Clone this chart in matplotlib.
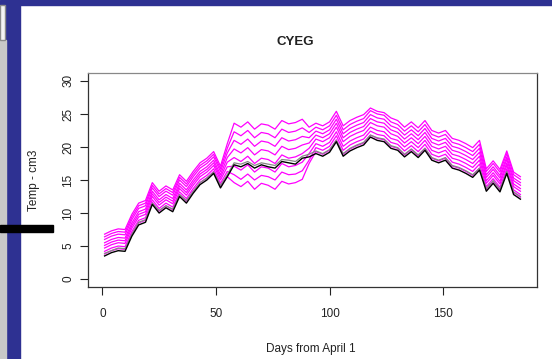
import matplotlib
matplotlib.use("Agg")
import matplotlib.pyplot as plt
from matplotlib.patches import Rectangle

plt.rcParams['font.family'] = ['Liberation Sans', 'DejaVu Sans']

# days from April 1 (every 3rd day)
days = list(range(1, 185, 3))

# observed temperature (black) and second obs line (grey)
obs = [3.5, 4.0, 4.3, 4.2, 6.5, 8.2, 8.6, 11.3, 10.0, 10.8, 10.2, 12.5, 11.5, 13.0, 14.3, 15.0, 16.0, 13.8,
       15.5, 17.3, 17.0, 17.5, 16.8, 17.3, 17.0, 16.8, 17.8, 17.6, 17.4, 18.3, 18.5,
       19.0, 18.6, 19.2, 20.8, 18.6, 19.4, 19.9, 20.3, 21.5, 21.0, 20.8, 19.8,
       19.5, 18.5, 19.3, 18.4, 19.5, 18.0, 17.6, 18.0, 16.8, 16.5, 16.0, 15.4, 16.5,
       13.3, 14.5, 13.2, 16.0, 12.8, 12.1]
obs_grey = [3.9, 4.3, 4.7, 4.6, 6.8, 8.6, 9.0, 11.5, 10.4, 11.1, 10.6, 12.8, 11.9, 13.3, 14.6, 15.3, 16.2, 14.2,
            15.8, 17.6, 17.4, 17.8, 17.2, 17.6, 17.4, 17.2, 18.1, 18.0, 17.8, 18.6, 18.9,
            19.4, 19.0, 19.6, 21.0, 19.0, 19.8, 20.3, 20.7, 21.8, 21.4, 21.2, 20.2,
            19.9, 18.9, 19.7, 18.8, 19.8, 18.4, 18.0, 18.4, 17.2, 16.9, 16.4, 15.8, 16.8,
            13.7, 14.9, 13.6, 16.3, 13.2, 12.5]

# ensemble members (magenta)
m1 = [3.8, 4.3, 4.6, 4.5, 6.8, 8.5, 8.9, 11.6, 10.3, 11.1, 10.5, 12.8, 11.8, 13.3, 14.6, 15.3, 16.3, 14.1,
      15.5, 14.6, 14.0, 14.8, 13.6, 14.5, 14.2, 13.6, 14.8, 14.4, 14.6, 15.1, 17.5,
      19.3, 18.9, 19.5, 21.1, 18.9, 19.7, 20.2, 20.6, 21.8, 21.3, 21.1, 20.1,
      19.8, 18.8, 19.6, 18.7, 19.8, 18.3, 17.9, 18.3, 17.1, 16.8, 16.3, 15.7, 16.8,
      13.6, 14.8, 13.5, 16.3, 13.1, 12.4]
m2 = [4.2, 4.7, 5.0, 4.9, 7.2, 8.9, 9.3, 12.0, 10.7, 11.5, 10.9, 13.2, 12.2, 13.7, 15.0, 15.7, 16.7, 14.5,
      16.3, 15.8, 15.1, 15.9, 15.0, 15.7, 15.5, 15.0, 16.2, 15.8, 15.9, 16.4, 18.0,
      19.9, 19.5, 20.1, 21.7, 19.5, 20.3, 20.8, 21.2, 22.4, 21.9, 21.7, 20.7,
      20.4, 19.4, 20.2, 19.3, 20.4, 18.9, 18.5, 18.9, 17.7, 17.4, 16.9, 16.3, 17.4,
      14.0, 15.2, 13.9, 16.7, 13.5, 12.8]
m3 = [4.7, 5.2, 5.5, 5.4, 7.7, 9.4, 9.8, 12.5, 11.2, 12.0, 11.4, 13.7, 12.7, 14.2, 15.5, 16.2, 17.2, 15.0,
      17.0, 17.1, 16.5, 17.3, 16.2, 17.0, 16.8, 16.2, 17.5, 17.0, 17.2, 17.7, 19.0,
      20.5, 20.1, 20.7, 22.3, 20.1, 20.9, 21.4, 21.8, 23.0, 22.5, 22.3, 21.3,
      21.0, 20.0, 20.8, 19.9, 21.0, 19.5, 19.1, 19.5, 18.3, 18.0, 17.5, 16.9, 18.0,
      14.5, 15.7, 14.4, 17.2, 14.0, 13.3]
m4 = [5.1, 5.6, 5.9, 5.8, 8.1, 9.8, 10.2, 12.9, 11.6, 12.4, 11.8, 14.1, 13.1, 14.6, 15.9, 16.6, 17.6, 15.4,
      17.7, 18.4, 17.8, 18.6, 17.5, 18.3, 18.1, 17.5, 18.8, 18.3, 18.5, 19.0, 19.8,
      21.2, 20.8, 21.4, 23.0, 20.8, 21.6, 22.1, 22.5, 23.7, 23.2, 23.0, 22.0,
      21.6, 20.6, 21.4, 20.5, 21.6, 20.1, 19.7, 20.1, 18.9, 18.6, 18.1, 17.5, 18.6,
      14.9, 16.1, 14.8, 17.6, 14.4, 13.7]
m5 = [5.5, 6.0, 6.3, 6.2, 8.5, 10.2, 10.6, 13.3, 12.0, 12.8, 12.2, 14.5, 13.5, 15.0, 16.3, 17.0, 18.0, 15.8,
      18.4, 19.7, 19.1, 19.9, 18.8, 19.6, 19.4, 18.8, 20.1, 19.6, 19.8, 20.3, 20.6,
      21.8, 21.4, 22.0, 23.6, 21.4, 22.2, 22.7, 23.1, 24.3, 23.8, 23.6, 22.6,
      22.2, 21.2, 22.0, 21.1, 22.2, 20.7, 20.3, 20.7, 19.5, 19.2, 18.7, 18.1, 19.2,
      15.4, 16.6, 15.3, 18.1, 14.9, 14.2]
m6 = [6.0, 6.5, 6.8, 6.7, 9.0, 10.7, 11.1, 13.8, 12.5, 13.3, 12.7, 15.0, 14.0, 15.5, 16.8, 17.5, 18.5, 16.3,
      19.1, 21.0, 20.4, 21.2, 20.1, 20.9, 20.7, 20.1, 21.4, 20.9, 21.1, 21.6, 21.4,
      22.4, 22.0, 22.6, 24.2, 22.0, 22.8, 23.3, 23.7, 24.9, 24.4, 24.2, 23.2,
      22.8, 21.8, 22.6, 21.7, 22.8, 21.3, 20.9, 21.3, 20.1, 19.8, 19.3, 18.7, 19.8,
      15.8, 17.0, 15.7, 18.5, 15.3, 14.6]
m7 = [6.4, 6.9, 7.2, 7.1, 9.4, 11.1, 11.5, 14.2, 12.9, 13.7, 13.1, 15.4, 14.4, 15.9, 17.2, 17.9, 18.9, 16.7,
      19.8, 22.3, 21.7, 22.5, 21.4, 22.2, 22.0, 21.4, 22.7, 22.2, 22.4, 22.9, 22.2,
      23.0, 22.6, 23.2, 24.8, 22.6, 23.4, 23.9, 24.3, 25.5, 25.0, 24.8, 23.8,
      23.4, 22.4, 23.2, 22.3, 23.4, 21.9, 21.5, 21.9, 20.7, 20.4, 19.9, 19.3, 20.4,
      16.3, 17.5, 16.2, 19.0, 15.8, 15.1]
m8 = [6.8, 7.3, 7.6, 7.5, 9.8, 11.5, 11.9, 14.6, 13.3, 14.1, 13.5, 15.8, 14.8, 16.3, 17.6, 18.3, 19.3, 17.1,
      20.5, 23.6, 23.0, 23.8, 22.7, 23.5, 23.3, 22.7, 24.0, 23.5, 23.7, 24.2, 23.0,
      23.6, 23.2, 23.8, 25.4, 23.2, 24.0, 24.5, 24.9, 25.9, 25.4, 25.2, 24.4,
      24.0, 23.0, 23.8, 22.9, 24.0, 22.5, 22.1, 22.5, 21.3, 21.0, 20.5, 19.9, 21.0,
      16.7, 17.9, 16.6, 19.4, 16.2, 15.5]
members = [m1, m2, m3, m4, m5, m6, m7, m8]

W, H = 552, 359
fig = plt.figure(figsize=(W / 100, H / 100), dpi=100)
fig.patch.set_facecolor('white')

# slide decoration around the plot
blue = '#2e3192'
fig.patches.append(Rectangle((0, 1 - 5 / H), 1, 5 / H, transform=fig.transFigure, color=blue, zorder=0))
fig.patches.append(Rectangle((6 / W, 0), 14 / W, 1, transform=fig.transFigure, color=blue, zorder=0))
fig.patches.append(Rectangle((0, 0), 6 / W, 1 - 40 / H, transform=fig.transFigure, color='#c8c8c8', zorder=0))
fig.patches.append(Rectangle((0, 1 - 40 / H), 5 / W, 35 / H, transform=fig.transFigure,
                             facecolor='#f4f4f4', edgecolor='#8a8a8a', lw=1, zorder=0))
fig.patches.append(Rectangle((0, 1 - 232 / H), 53 / W, 7 / H, transform=fig.transFigure, color='black', zorder=3))

ax = fig.add_axes([88 / W, 1 - 287 / H, 449 / W, 214 / H])

for m in members:
    ax.plot(days, m, color='#ff00ff', lw=0.9)
ax.plot(days, obs_grey, color='#888888', lw=0.9)
ax.plot(days, obs, color='black', lw=1.0)

ax.set_xlim(-6.3, 191.3)
ax.set_ylim(-1.2, 31.2)
ax.set_xticks([0, 50, 100, 150])
ax.set_yticks([0, 5, 10, 15, 20, 25, 30])
ax.tick_params(axis='x', direction='out', length=6, width=0.8, pad=9, labelsize=8.5, colors='#222222')
ax.tick_params(axis='y', direction='out', length=6, width=0.8, pad=4, labelsize=8.5, colors='#222222',
               labelrotation=90)
for lbl in ax.get_yticklabels():
    lbl.set_va('center')
for s in ax.spines.values():
    s.set_color('#333333')
    s.set_linewidth(0.9)
ax.spines['top'].set_color('#888888')

fig.text(295 / W, 1 - 42 / H, 'CYEG', ha='center', va='center', fontsize=9.5, fontweight='bold', color='#222222')
fig.text(311 / W, 1 - 349 / H, 'Days from April 1', ha='center', va='center', fontsize=8.5, color='#222222')
fig.text(34 / W, 1 - 180 / H, 'Temp - cm3', ha='center', va='center', rotation=90, fontsize=8.5, color='#222222')

fig.savefig('out.png', dpi=100)
